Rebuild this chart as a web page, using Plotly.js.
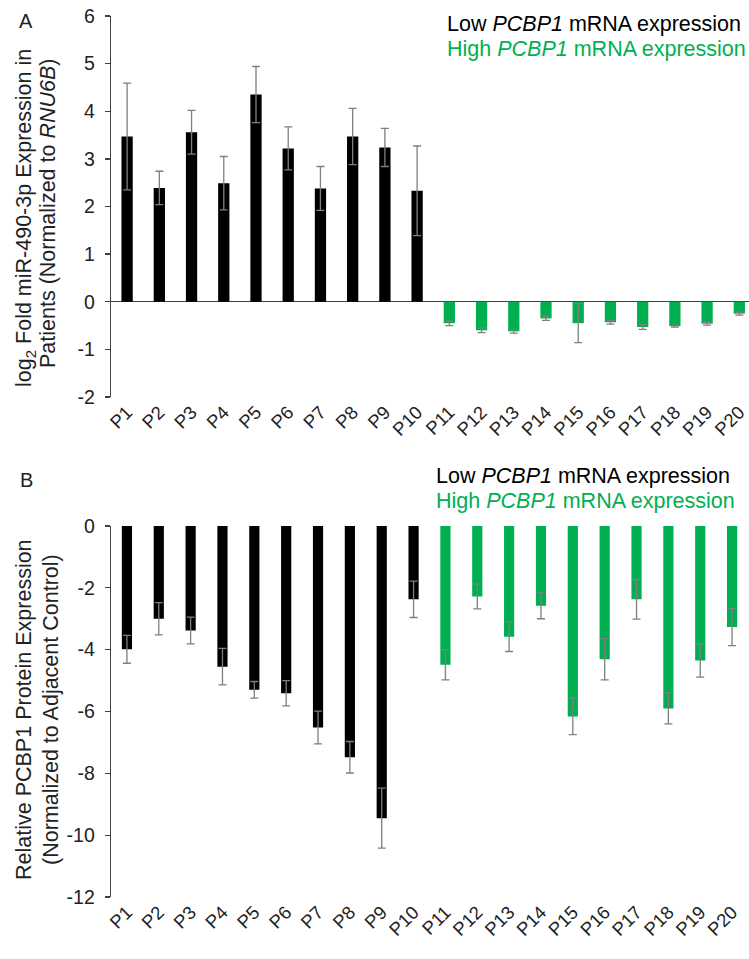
<!DOCTYPE html>
<html>
<head>
<meta charset="utf-8">
<script src="https://cdn.plot.ly/plotly-3.0.1.min.js"></script>
<style>html,body{margin:0;padding:0;background:#fff;}#chart{width:749px;height:959px;}</style>
</head>
<body>
<div id="chart"></div>
<script>
// ---- Data ----
const categories = ['P1','P2','P3','P4','P5','P6','P7','P8','P9','P10',
                    'P11','P12','P13','P14','P15','P16','P17','P18','P19','P20'];
const lowPatients = categories.slice(0, 10);
const highPatients = categories.slice(10);

// Panel A: log2 fold miR-490-3p expression
const mirLow     = [3.47, 2.39, 3.56, 2.49, 4.35, 3.22, 2.38, 3.47, 3.24, 2.33];
const mirLowErr  = [1.12, 0.35, 0.46, 0.56, 0.59, 0.45, 0.46, 0.59, 0.40, 0.94];
const mirHigh    = [-0.45, -0.60, -0.62, -0.35, -0.45, -0.43, -0.53, -0.51, -0.46, -0.25];
const mirHighErr = [0.05, 0.05, 0.04, 0.04, 0.41, 0.04, 0.05, 0.02, 0.03, 0.03];
const yTicksA    = [-2, -1, 0, 1, 2, 3, 4, 5, 6];

// Panel B: relative PCBP1 protein expression
const protLow     = [-3.99, -3.00, -3.38, -4.55, -5.30, -5.41, -6.52, -7.48, -9.45, -2.37];
const protLowErr  = [0.45, 0.52, 0.43, 0.59, 0.27, 0.41, 0.53, 0.51, 0.97, 0.59];
const protHigh    = [-4.49, -2.28, -3.58, -2.58, -6.16, -4.31, -2.37, -5.90, -4.35, -3.27];
const protHighErr = [0.49, 0.40, 0.48, 0.42, 0.59, 0.67, 0.64, 0.50, 0.54, 0.60];
const yTicksB     = [-12, -10, -8, -6, -4, -2, 0];

const seriesNames = ['Low <i>PCBP1</i> mRNA expression', 'High <i>PCBP1</i> mRNA expression'];
const yTitleA = ['log<sub>2</sub> Fold miR-490-3p Expression in', 'Patients (Normalized to <i>RNU6B</i>)'];
const yTitleB = ['Relative PCBP1 Protein Expression', '(Normalized to Adjacent Control)'];

// ---- Styles ----
const BLACK = '#000000';
const GREEN = '#00B050';
const AXIS = '#404040';
const ERR = '#7f7f7f';
const FONT = 'Liberation Sans, Arial, sans-serif';
const W = 749, H = 959;
const px = v => v / W;
const py = v => 1 - v / H;

function barTrace(x, y, err, color, xa, ya, width) {
  return {
    type: 'bar', x: x, y: y, xaxis: xa, yaxis: ya,
    marker: {color: color, line: {width: 0}},
    width: width,
    error_y: {type: 'data', array: err, visible: true, color: ERR, thickness: 1.3, width: 4},
    showlegend: false, hoverinfo: 'x+y'
  };
}

const traces = [
  barTrace(lowPatients, mirLow, mirLowErr, BLACK, 'x', 'y', 0.35),
  barTrace(highPatients, mirHigh, mirHighErr, GREEN, 'x', 'y', 0.35),
  barTrace(lowPatients, protLow, protLowErr, BLACK, 'x2', 'y2', 0.32),
  barTrace(highPatients, protHigh, protHighErr, GREEN, 'x2', 'y2', 0.32)
];

const boundaries = categories.map((c, i) => i - 0.5).concat([categories.length - 0.5]);

const tickFontX = {family: FONT, size: 18.5, color: '#222'};
const tickFontY = {family: FONT, size: 19.5, color: '#222'};
const legendFont = 21.5;
const titleFont = 21.5;

const layout = {
  width: W, height: H,
  margin: {l: 0, r: 0, t: 0, b: 0},
  paper_bgcolor: '#fff', plot_bgcolor: 'rgba(0,0,0,0)',
  barmode: 'overlay',
  showlegend: false,
  font: {family: FONT, color: '#222'},
  xaxis: {
    domain: [px(111), 1], anchor: 'y', type: 'category',
    categoryorder: 'array', categoryarray: categories,
    range: [-0.5, 19.3], showline: false, ticks: '', showgrid: false, zeroline: false,
    tickangle: -45, tickfont: tickFontX
  },
  yaxis: {
    domain: [py(397), py(16)], anchor: 'x', range: [-2, 6],
    tickmode: 'array', tickvals: yTicksA, ticktext: yTicksA.map(String),
    showline: true, linecolor: AXIS, linewidth: 1.3, ticks: 'outside', ticklen: 5,
    tickcolor: AXIS, tickwidth: 1.3, showgrid: false,
    zeroline: true, zerolinecolor: AXIS, zerolinewidth: 1.3,
    tickfont: tickFontY, ticklabelstandoff: 6
  },
  xaxis2: {
    domain: [px(111), px(748)], anchor: 'y2', type: 'category',
    categoryorder: 'array', categoryarray: categories,
    range: [-0.5, 19.5], showline: false, ticks: '', showgrid: false, zeroline: false,
    tickangle: -45, tickfont: tickFontX
  },
  xaxis3: {
    overlaying: 'x2', anchor: 'y2', side: 'top', type: 'linear',
    range: [-0.5, 19.5], showline: true, linecolor: AXIS, linewidth: 1.3,
    ticks: 'inside', ticklen: 4, tickcolor: AXIS, tickwidth: 1.3,
    tickmode: 'array', tickvals: boundaries,
    showticklabels: false, showgrid: false, zeroline: false
  },
  yaxis2: {
    domain: [py(897), py(526)], anchor: 'x2', range: [-12, 0],
    tickmode: 'array', tickvals: yTicksB, ticktext: yTicksB.map(String),
    showline: true, linecolor: AXIS, linewidth: 1.3, ticks: 'outside', ticklen: 5,
    tickcolor: AXIS, tickwidth: 1.3, showgrid: false, zeroline: false,
    tickfont: tickFontY, ticklabelstandoff: 6
  },
  annotations: [
    {text: 'A', x: px(26), y: py(21), xref: 'paper', yref: 'paper', showarrow: false,
     xanchor: 'center', yanchor: 'middle', font: {family: FONT, size: 20, color: '#222'}},
    {text: 'B', x: px(26), y: py(480), xref: 'paper', yref: 'paper', showarrow: false,
     xanchor: 'center', yanchor: 'middle', font: {family: FONT, size: 20, color: '#222'}},
    {text: yTitleA[0], x: px(26), y: py(218), xref: 'paper', yref: 'paper', showarrow: false,
     textangle: -90, xanchor: 'center', yanchor: 'middle', font: {family: FONT, size: titleFont, color: '#222'}},
    {text: yTitleA[1], x: px(48), y: py(213), xref: 'paper', yref: 'paper', showarrow: false,
     textangle: -90, xanchor: 'center', yanchor: 'middle', font: {family: FONT, size: titleFont, color: '#222'}},
    {text: yTitleB[0], x: px(24), y: py(710), xref: 'paper', yref: 'paper', showarrow: false,
     textangle: -90, xanchor: 'center', yanchor: 'middle', font: {family: FONT, size: titleFont, color: '#222'}},
    {text: yTitleB[1], x: px(51), y: py(710), xref: 'paper', yref: 'paper', showarrow: false,
     textangle: -90, xanchor: 'center', yanchor: 'middle', font: {family: FONT, size: titleFont, color: '#222'}},
    {text: seriesNames[0], x: px(445), y: py(24), xref: 'paper', yref: 'paper', showarrow: false,
     xanchor: 'left', yanchor: 'middle', font: {family: FONT, size: legendFont, color: BLACK}},
    {text: seriesNames[1], x: px(445), y: py(49), xref: 'paper', yref: 'paper', showarrow: false,
     xanchor: 'left', yanchor: 'middle', font: {family: FONT, size: legendFont, color: GREEN}},
    {text: seriesNames[0], x: px(434), y: py(476), xref: 'paper', yref: 'paper', showarrow: false,
     xanchor: 'left', yanchor: 'middle', font: {family: FONT, size: legendFont, color: BLACK}},
    {text: seriesNames[1], x: px(434), y: py(501), xref: 'paper', yref: 'paper', showarrow: false,
     xanchor: 'left', yanchor: 'middle', font: {family: FONT, size: legendFont, color: GREEN}}
  ]
};

Plotly.newPlot('chart', traces, layout, {displayModeBar: false, staticPlot: true});
</script>
</body>
</html>
